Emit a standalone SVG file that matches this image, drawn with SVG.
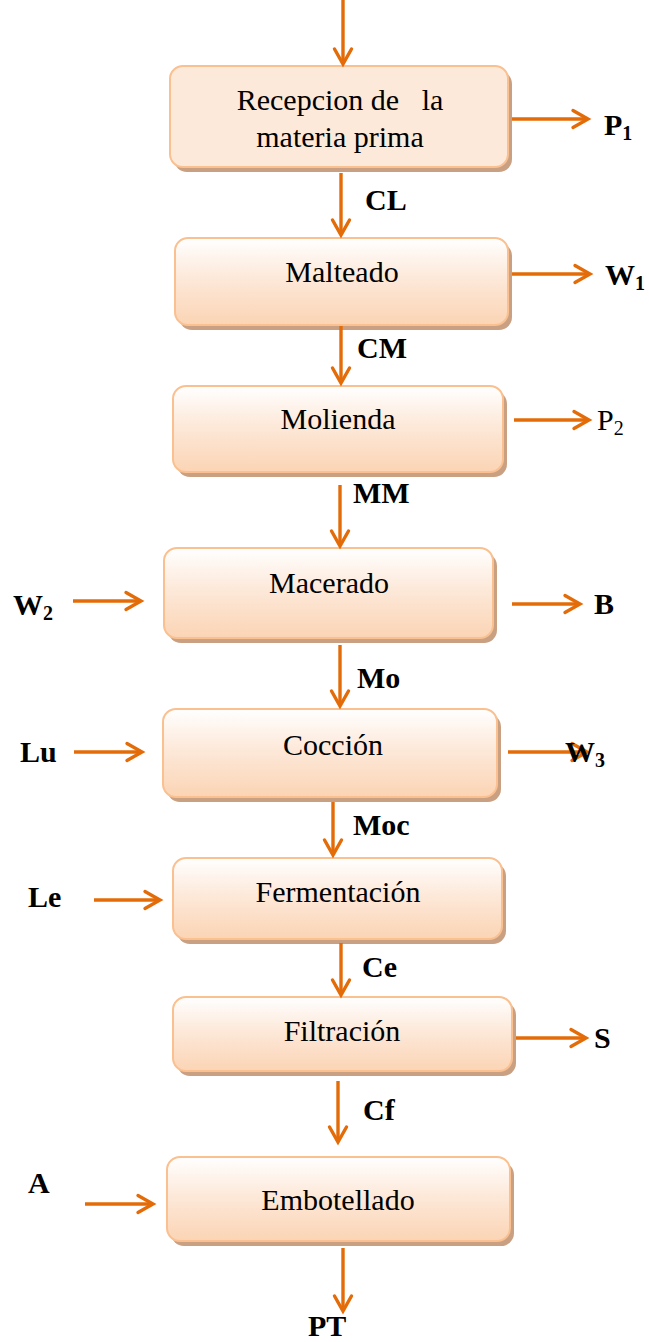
<svg xmlns="http://www.w3.org/2000/svg" width="649" height="1342" viewBox="0 0 649 1342">
  <defs>
    <linearGradient id="boxFill" x1="0" y1="0" x2="0" y2="1">
      <stop offset="0" stop-color="#ffffff"/>
      <stop offset="0.45" stop-color="#fde9da"/>
      <stop offset="1" stop-color="#fbd4b4"/>
    </linearGradient>
    <marker id="arrow" viewBox="0 0 24 24" refX="19" refY="12" markerWidth="24" markerHeight="24" markerUnits="userSpaceOnUse" orient="auto">
      <path d="M4,3.5 L19,12 L4,20.5" fill="none" stroke="#e36c09" stroke-width="3.4" stroke-linecap="round" stroke-linejoin="miter"/>
    </marker>
    <style>
      .box { stroke: #fac090; stroke-width: 2; fill: url(#boxFill); }
      .box.flat { fill: #fde9da; }
      .shadow { fill: #c9a082; }
      .name { font-family: "Liberation Serif", "Times New Roman", serif; font-size: 30px; fill: #000; text-anchor: middle; }
      .lbl { font-family: "Liberation Serif", "Times New Roman", serif; font-size: 30px; font-weight: bold; fill: #000; }
      .plain { font-family: "Liberation Serif", "Times New Roman", serif; font-size: 30px; fill: #000; }
      .sub { font-size: 20px; }
      .flow { stroke: #e36c09; stroke-width: 3.4; fill: none; marker-end: url(#arrow); }
    </style>
  </defs>

  <!-- process steps -->
  <g id="recepcion">
    <rect class="shadow" x="174" y="71" width="338" height="101" rx="13"/>
    <rect class="box flat" x="170" y="66" width="338" height="101" rx="13"/>
    <text class="name" x="340" y="110" xml:space="preserve">Recepcion de   la</text>
    <text class="name" x="340" y="147">materia prima</text>
  </g>
  <g id="malteado">
    <rect class="shadow" x="179" y="243" width="333" height="87" rx="13"/>
    <rect class="box" x="175" y="238" width="333" height="87" rx="13"/>
    <text class="name" x="342" y="282">Malteado</text>
  </g>
  <g id="molienda">
    <rect class="shadow" x="177" y="391" width="330" height="86" rx="13"/>
    <rect class="box" x="173" y="386" width="330" height="86" rx="13"/>
    <text class="name" x="338" y="429">Molienda</text>
  </g>
  <g id="macerado">
    <rect class="shadow" x="168" y="553" width="329" height="90" rx="13"/>
    <rect class="box" x="164" y="548" width="329" height="90" rx="13"/>
    <text class="name" x="329" y="593">Macerado</text>
  </g>
  <g id="coccion">
    <rect class="shadow" x="167" y="714" width="334" height="88" rx="13"/>
    <rect class="box" x="163" y="709" width="334" height="88" rx="13"/>
    <text class="name" x="333" y="755">Cocción</text>
  </g>
  <g id="fermentacion">
    <rect class="shadow" x="177" y="863" width="329" height="81" rx="13"/>
    <rect class="box" x="173" y="858" width="329" height="81" rx="13"/>
    <text class="name" x="338" y="902">Fermentación</text>
  </g>
  <g id="filtracion">
    <rect class="shadow" x="177" y="1002" width="339" height="74" rx="13"/>
    <rect class="box" x="173" y="997" width="339" height="74" rx="13"/>
    <text class="name" x="342" y="1041">Filtración</text>
  </g>
  <g id="embotellado">
    <rect class="shadow" x="171" y="1162" width="343" height="84" rx="13"/>
    <rect class="box" x="167" y="1157" width="343" height="84" rx="13"/>
    <text class="name" x="338" y="1210">Embotellado</text>
  </g>

  <!-- flows between steps and in/out streams -->
  <g id="connectors">
    <line class="flow" x1="343" y1="0" x2="343" y2="64"/>
    <line class="flow" x1="341" y1="173" x2="341" y2="235"/>
    <line class="flow" x1="341" y1="326" x2="341" y2="383"/>
    <line class="flow" x1="340" y1="485" x2="340" y2="546"/>
    <line class="flow" x1="340" y1="645" x2="340" y2="706"/>
    <line class="flow" x1="333" y1="802" x2="333" y2="855"/>
    <line class="flow" x1="341" y1="943" x2="341" y2="995"/>
    <line class="flow" x1="338" y1="1081" x2="338" y2="1142"/>
    <line class="flow" x1="343" y1="1248" x2="343" y2="1311"/>

    <line class="flow" x1="512" y1="119" x2="588" y2="119"/>
    <line class="flow" x1="512" y1="274" x2="590" y2="274"/>
    <line class="flow" x1="514" y1="420" x2="589" y2="420"/>
    <line class="flow" x1="512" y1="604" x2="580" y2="604"/>
    <line class="flow" x1="508" y1="752" x2="587" y2="752"/>
    <line class="flow" x1="516" y1="1038" x2="586" y2="1038"/>

    <line class="flow" x1="73" y1="601" x2="141" y2="601"/>
    <line class="flow" x1="74" y1="752" x2="142" y2="752"/>
    <line class="flow" x1="94" y1="900" x2="160" y2="900"/>
    <line class="flow" x1="85" y1="1204" x2="153" y2="1204"/>
  </g>

  <!-- stream labels -->
  <g id="labels">
    <text class="lbl" x="365" y="210">CL</text>
    <text class="lbl" x="357" y="358">CM</text>
    <text class="lbl" x="353" y="503">MM</text>
    <text class="lbl" x="357" y="688">Mo</text>
    <text class="lbl" x="353" y="835">Moc</text>
    <text class="lbl" x="362" y="977">Ce</text>
    <text class="lbl" x="363" y="1120">Cf</text>
    <text class="lbl" x="308" y="1336">PT</text>

    <text class="lbl" x="604" y="135">P<tspan class="sub" dy="5">1</tspan></text>
    <text class="lbl" x="605" y="285">W<tspan class="sub" dy="5">1</tspan></text>
    <text class="plain" x="597" y="430">P<tspan class="sub" dy="5">2</tspan></text>
    <text class="lbl" x="594" y="614">B</text>
    <text class="lbl" x="565" y="762">W<tspan class="sub" dy="5">3</tspan></text>
    <text class="lbl" x="594" y="1048">S</text>

    <text class="lbl" x="13" y="615">W<tspan class="sub" dy="5">2</tspan></text>
    <text class="lbl" x="20" y="762">Lu</text>
    <text class="lbl" x="28" y="907">Le</text>
    <text class="lbl" x="28" y="1193">A</text>
  </g>
</svg>
